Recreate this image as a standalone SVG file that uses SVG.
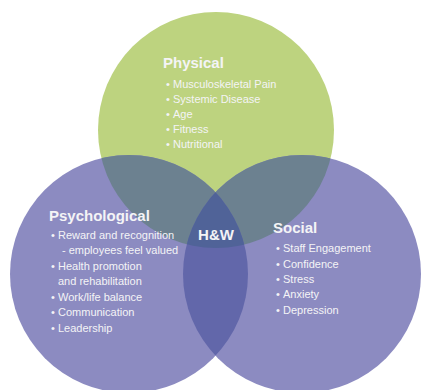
<svg xmlns="http://www.w3.org/2000/svg" width="422" height="390" viewBox="0 0 422 390">
<style>
.t{font-family:"Liberation Sans",Arial,sans-serif;fill:#f4f4f6}
.h{font-size:15px;font-weight:bold}
.i{font-size:11px}
</style>
<defs>
<clipPath id="cg"><circle cx="216" cy="130" r="118"/></clipPath>
<clipPath id="cl"><circle cx="129" cy="274" r="119"/></clipPath>
<clipPath id="cr"><circle cx="302" cy="274" r="119"/></clipPath>
</defs>
<rect width="422" height="390" fill="#ffffff"/>
<g id="circles">
<circle cx="216" cy="130" r="118" fill="#bdd37f"/>
<circle cx="129" cy="274" r="119" fill="#8c8bc1"/>
<circle cx="302" cy="274" r="119" fill="#8c8bc1"/>
<g clip-path="url(#cg)">
<circle cx="129" cy="274" r="119" fill="#6c8190"/>
<circle cx="302" cy="274" r="119" fill="#6c8190"/>
</g>
<g clip-path="url(#cl)">
<circle cx="302" cy="274" r="119" fill="#6267aa"/>
<g clip-path="url(#cg)">
<circle cx="302" cy="274" r="119" fill="#506398"/>
</g>
</g>
</g>
<g id="physical" class="t">
<text class="h" x="163" y="68">Physical</text>
<text class="i">
<tspan x="166" y="88">•</tspan><tspan x="173" y="88">Musculoskeletal Pain</tspan>
<tspan x="166" y="103">•</tspan><tspan x="173" y="103">Systemic Disease</tspan>
<tspan x="166" y="118">•</tspan><tspan x="173" y="118">Age</tspan>
<tspan x="166" y="133">•</tspan><tspan x="173" y="133">Fitness</tspan>
<tspan x="166" y="148">•</tspan><tspan x="173" y="148">Nutritional</tspan>
</text>
</g>
<g id="psychological" class="t">
<text class="h" x="49" y="221">Psychological</text>
<text class="i">
<tspan x="51" y="239">•</tspan><tspan x="58" y="239">Reward and recognition</tspan>
<tspan x="62" y="254">- employees feel valued</tspan>
<tspan x="51" y="270">•</tspan><tspan x="58" y="270">Health promotion</tspan>
<tspan x="58" y="285">and rehabilitation</tspan>
<tspan x="51" y="301">•</tspan><tspan x="58" y="301">Work/life balance</tspan>
<tspan x="51" y="316">•</tspan><tspan x="58" y="316">Communication</tspan>
<tspan x="51" y="332">•</tspan><tspan x="58" y="332">Leadership</tspan>
</text>
</g>
<g id="social" class="t">
<text class="h" x="273" y="233">Social</text>
<text class="i">
<tspan x="276" y="252">•</tspan><tspan x="283" y="252">Staff Engagement</tspan>
<tspan x="276" y="268">•</tspan><tspan x="283" y="268">Confidence</tspan>
<tspan x="276" y="283">•</tspan><tspan x="283" y="283">Stress</tspan>
<tspan x="276" y="298">•</tspan><tspan x="283" y="298">Anxiety</tspan>
<tspan x="276" y="314">•</tspan><tspan x="283" y="314">Depression</tspan>
</text>
</g>
<g id="hw" class="t">
<text class="h" x="216" y="240" text-anchor="middle">H&amp;W</text>
</g>
</svg>
